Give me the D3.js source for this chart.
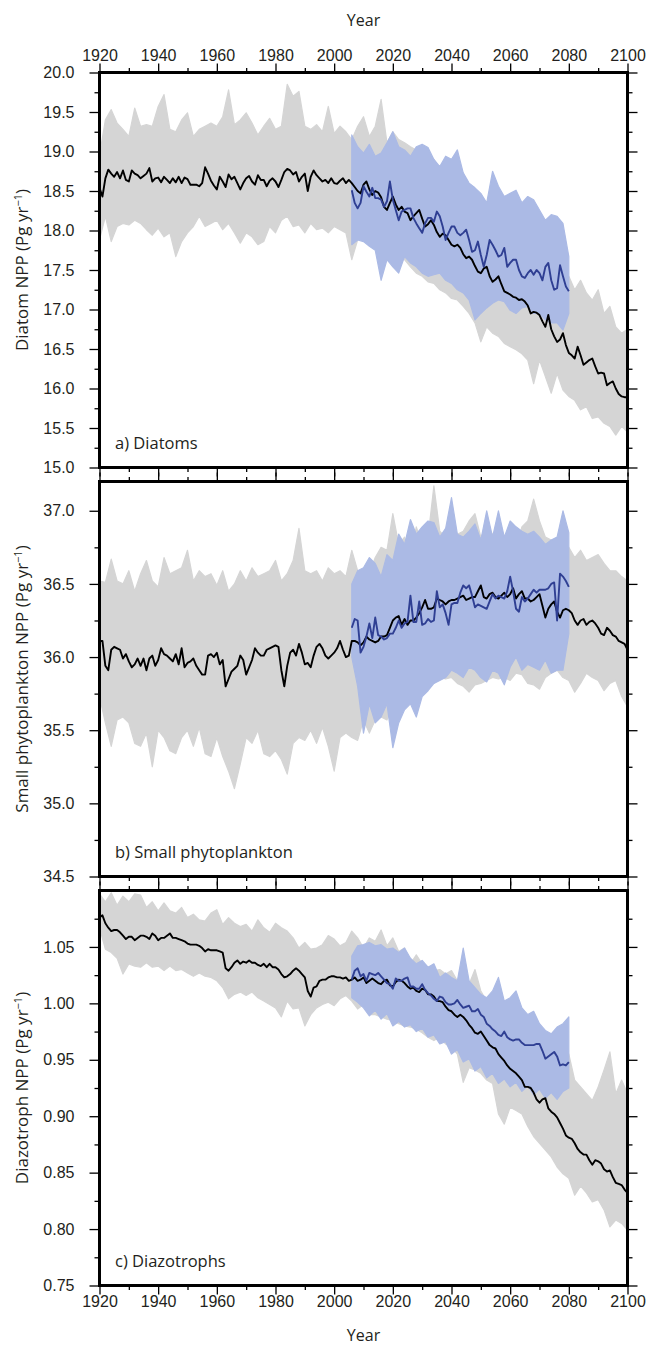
<!DOCTYPE html>
<html>
<head>
<meta charset="utf-8">
<script src="https://cdn.jsdelivr.net/npm/d3@7"></script>
<style>
  body { margin: 0; background: #fff; }
  svg { display: block; font-family: "Open Sans", sans-serif; }
</style>
</head>
<body>
<svg id="chart" width="647" height="1345"></svg>
<script>
// ---- tick labels ----
const yearTicks = [1920, 1940, 1960, 1980, 2000, 2020, 2040, 2060, 2080, 2100]
const diatomTicks = [15.0, 15.5, 16.0, 16.5, 17.0, 17.5, 18.0, 18.5, 19.0, 19.5, 20.0]
const smallTicks = [34.5, 35.0, 35.5, 36.0, 36.5, 37.0]
const diazTicks = [0.75, 0.80, 0.85, 0.90, 0.95, 1.00, 1.05]

// ---- years ----
const years = d3.range(1920, 2101)          // ensemble mean, yearly
const futureYears = d3.range(2006, 2081)    // blue run mean, yearly
const envYears = d3.range(1920, 2101, 2)    // grey ensemble spread, every 2 yr
const blueEnvYears = d3.range(2006, 2081, 2) // blue ensemble spread, every 2 yr

// ---- a) Diatoms ----
const diatomMean = [
  18.54, 18.43, 18.66, 18.77, 18.72, 18.68, 18.74, 18.66, 18.76, 18.64,
  18.62, 18.76, 18.72, 18.70, 18.66, 18.69, 18.72, 18.79, 18.62, 18.66,
  18.67, 18.61, 18.68, 18.64, 18.60, 18.66, 18.61, 18.68, 18.60, 18.67,
  18.65, 18.58, 18.58, 18.58, 18.56, 18.60, 18.80, 18.72, 18.63, 18.57,
  18.52, 18.68, 18.62, 18.55, 18.71, 18.65, 18.68, 18.60, 18.52, 18.60,
  18.66, 18.69, 18.62, 18.58, 18.70, 18.64, 18.64, 18.56, 18.63, 18.66,
  18.62, 18.55, 18.64, 18.74, 18.78, 18.76, 18.71, 18.74, 18.62, 18.68,
  18.72, 18.50, 18.68, 18.76, 18.70, 18.66, 18.62, 18.64, 18.60, 18.66,
  18.60, 18.59, 18.63, 18.66, 18.60, 18.64, 18.60, 18.55, 18.50, 18.47,
  18.58, 18.62, 18.52, 18.45, 18.50, 18.48, 18.42, 18.30, 18.26, 18.35,
  18.43, 18.33, 18.26, 18.30, 18.24, 18.22, 18.13, 18.18, 18.22, 18.26,
  18.15, 18.05, 18.08, 18.13, 18.07, 17.98, 17.92, 17.96, 17.94, 17.88,
  17.82, 17.80, 17.82, 17.78, 17.70, 17.65, 17.67, 17.63, 17.55, 17.48,
  17.46, 17.52, 17.54, 17.42, 17.35, 17.38, 17.42, 17.32, 17.23, 17.21,
  17.19, 17.16, 17.15, 17.12, 17.13, 17.10, 17.05, 16.95, 16.97, 16.96,
  16.93, 16.85, 16.78, 16.93, 16.75, 16.66, 16.59, 16.62, 16.70, 16.55,
  16.45, 16.42, 16.38, 16.53, 16.42, 16.30, 16.33, 16.36, 16.38, 16.28,
  16.19, 16.20, 16.19, 16.04, 16.07, 16.09, 16.00, 15.93, 15.90, 15.89,
  15.89
]
const diatomFuture = [
  18.51, 18.35, 18.28, 18.35, 18.56, 18.49, 18.43, 18.54, 18.41, 18.41,
  18.39, 18.30, 18.37, 18.62, 18.39, 18.26, 18.13, 18.24, 18.26, 18.28,
  18.28, 18.16, 18.09, 18.03, 17.97, 18.09, 18.16, 18.16, 18.11, 18.24,
  18.18, 18.05, 17.88, 17.97, 18.05, 18.05, 17.97, 17.94, 17.97, 18.01,
  17.88, 17.73, 17.75, 17.86, 17.69, 17.54, 17.69, 17.88, 17.82, 17.75,
  17.67, 17.69, 17.78, 17.54, 17.59, 17.63, 17.63, 17.50, 17.42, 17.40,
  17.46, 17.50, 17.44, 17.50, 17.46, 17.37, 17.54, 17.59, 17.37, 17.25,
  17.27, 17.56, 17.42, 17.29, 17.23
]
const diatomGrayHi = [
  18.95, 19.40, 19.53, 19.36, 19.28, 19.19, 19.55, 19.32, 19.34, 19.32,
  19.57, 19.72, 19.28, 19.25, 19.40, 19.49, 19.19, 19.28, 19.32, 19.36,
  19.32, 19.44, 19.78, 19.34, 19.40, 19.49, 19.36, 19.21, 19.32, 19.42,
  19.28, 19.32, 19.85, 19.70, 19.76, 19.32, 19.28, 19.34, 19.25, 19.57,
  19.23, 19.32, 19.25, 19.15, 19.32, 19.44, 19.19, 19.32, 19.66, 19.11,
  19.25, 19.15, 19.11, 19.06, 19.02, 18.94, 18.98, 18.90, 18.77, 18.85,
  18.73, 18.64, 18.56, 18.47, 18.39, 18.30, 18.26, 18.18, 18.13, 18.05,
  17.97, 17.88, 17.80, 17.71, 17.63, 17.54, 17.46, 17.42, 17.37, 17.29,
  17.42, 17.25, 17.37, 17.21, 17.12, 17.25, 16.95, 17.04, 16.78, 16.70,
  16.75
]
const diatomGrayLo = [
  17.88, 18.18, 17.86, 18.05, 18.09, 18.07, 18.13, 18.09, 18.01, 17.94,
  18.03, 17.92, 17.97, 17.67, 17.86, 17.97, 18.05, 18.18, 18.05, 18.09,
  18.13, 18.01, 18.09, 17.97, 17.84, 17.97, 17.92, 17.82, 17.86, 18.05,
  17.97, 18.13, 18.18, 18.05, 18.07, 17.97, 18.09, 18.01, 18.03, 17.97,
  18.05, 18.01, 17.97, 17.63, 17.88, 17.92, 17.86, 17.80, 17.78, 17.75,
  17.75, 17.69, 17.63, 17.54, 17.46, 17.42, 17.35, 17.33, 17.25, 17.21,
  17.14, 17.12, 17.04, 16.95, 16.83, 16.59, 16.78, 16.70, 16.66, 16.57,
  16.53, 16.49, 16.44, 16.36, 16.06, 16.36, 16.15, 15.94, 16.19, 15.98,
  15.90, 15.85, 15.73, 15.77, 15.62, 15.64, 15.56, 15.52, 15.41, 15.52,
  15.45
]
const diatomBlueHi = [
  19.21, 19.06, 18.98, 19.09, 18.94, 18.98, 19.11, 19.25, 19.06, 19.02,
  18.94, 19.06, 19.09, 19.05, 18.90, 18.81, 18.94, 18.90, 19.02, 18.73,
  18.60, 18.54, 18.47, 18.35, 18.75, 18.56, 18.43, 18.47, 18.51, 18.35,
  18.43, 18.39, 18.26, 18.13, 18.20, 18.18, 18.09, 17.67
]
const diatomBlueLo = [
  17.82, 17.88, 17.86, 17.80, 17.75, 17.37, 17.63, 17.54, 17.46, 17.67,
  17.59, 17.54, 17.46, 17.42, 17.44, 17.46, 17.37, 17.33, 17.25, 17.21,
  17.12, 16.87, 16.95, 17.02, 17.08, 17.12, 17.10, 16.99, 16.95, 17.02,
  17.04, 16.95, 16.95, 16.87, 16.83, 16.83, 16.74, 16.95
]

// ---- b) Small phytoplankton ----
const smallMean = [
  36.11, 36.11, 35.94, 35.91, 36.05, 36.07, 36.06, 36.05, 35.99, 36.02,
  35.97, 35.93, 35.95, 35.99, 35.94, 35.99, 35.91, 35.99, 36.01, 35.94,
  35.98, 36.06, 36.02, 36.01, 35.99, 35.97, 36.02, 35.95, 36.06, 35.93,
  35.96, 35.97, 35.99, 35.94, 35.91, 35.88, 35.88, 36.01, 36.02, 36.00,
  36.03, 35.95, 35.98, 35.80, 35.85, 35.90, 35.92, 35.94, 36.01, 35.98,
  35.88, 35.93, 35.98, 36.06, 36.03, 36.01, 36.01, 36.05, 36.06, 36.07,
  36.08, 36.07, 35.91, 35.80, 35.94, 36.03, 36.05, 36.01, 36.09, 36.03,
  35.95, 35.96, 35.93, 36.01, 36.07, 36.09, 36.06, 36.01, 35.99, 36.01,
  36.03, 36.06, 36.11, 36.05, 36.00, 36.01, 36.11, 36.11, 36.10, 36.08,
  36.10, 36.14, 36.12, 36.11, 36.10, 36.11, 36.14, 36.14, 36.15, 36.20,
  36.25, 36.27, 36.28, 36.22, 36.26, 36.22, 36.25, 36.25, 36.27, 36.30,
  36.34, 36.39, 36.33, 36.33, 36.34, 36.40, 36.39, 36.38, 36.36, 36.38,
  36.39, 36.39, 36.40, 36.41, 36.42, 36.39, 36.40, 36.41, 36.41, 36.45,
  36.49, 36.41, 36.40, 36.43, 36.44, 36.41, 36.40, 36.42, 36.44, 36.41,
  36.43, 36.47, 36.40, 36.43, 36.45, 36.40, 36.40, 36.38, 36.39, 36.41,
  36.43, 36.35, 36.27, 36.33, 36.36, 36.38, 36.31, 36.27, 36.32, 36.33,
  36.32, 36.30, 36.25, 36.22, 36.25, 36.26, 36.22, 36.24, 36.25, 36.23,
  36.20, 36.16, 36.15, 36.20, 36.18, 36.15, 36.14, 36.11, 36.10, 36.09,
  36.05
]
const smallFuture = [
  36.20, 36.26, 36.25, 36.03, 36.07, 36.14, 36.23, 36.13, 36.27, 36.15,
  36.14, 36.12, 36.13, 36.16, 36.16, 36.20, 36.25, 36.20, 36.23, 36.24,
  36.42, 36.24, 36.24, 36.38, 36.22, 36.23, 36.26, 36.24, 36.25, 36.45,
  36.34, 36.36, 36.30, 36.22, 36.36, 36.37, 36.37, 36.44, 36.49, 36.47,
  36.49, 36.42, 36.34, 36.36, 36.35, 36.34, 36.33, 36.38, 36.43, 36.40,
  36.42, 36.41, 36.40, 36.45, 36.55, 36.45, 36.33, 36.31, 36.41, 36.38,
  36.40, 36.43, 36.46, 36.44, 36.46, 36.46, 36.46, 36.47, 36.50, 36.51,
  36.25, 36.57, 36.55, 36.52, 36.48
]
const smallGrayHi = [
  36.52, 36.51, 36.67, 36.52, 36.50, 36.59, 36.45, 36.57, 36.66, 36.52,
  36.48, 36.68, 36.57, 36.59, 36.61, 36.73, 36.52, 36.59, 36.55, 36.57,
  36.49, 36.59, 36.45, 36.50, 36.59, 36.52, 36.61, 36.55, 36.57, 36.59,
  36.66, 36.52, 36.57, 36.66, 36.88, 36.59, 36.57, 36.59, 36.52, 36.61,
  36.57, 36.59, 36.55, 36.73, 36.59, 36.59, 36.57, 36.68, 36.75, 36.73,
  36.98, 36.77, 36.82, 36.68, 36.89, 36.77, 36.82, 37.17, 36.86, 36.82,
  36.91, 36.84, 36.86, 36.93, 36.98, 36.82, 36.89, 36.84, 36.82, 36.78,
  36.84, 36.75, 36.89, 36.93, 37.08, 36.93, 36.82, 36.80, 36.75, 36.73,
  36.75, 36.68, 36.73, 36.66, 36.68, 36.70, 36.64, 36.59, 36.59, 36.55,
  36.52
]
const smallGrayLo = [
  35.73, 35.55, 35.39, 35.57, 35.59, 35.55, 35.41, 35.39, 35.48, 35.25,
  35.50, 35.45, 35.36, 35.34, 35.45, 35.50, 35.39, 35.52, 35.34, 35.32,
  35.45, 35.32, 35.22, 35.10, 35.27, 35.45, 35.41, 35.50, 35.34, 35.32,
  35.36, 35.30, 35.20, 35.41, 35.45, 35.43, 35.50, 35.41, 35.52, 35.39,
  35.22, 35.45, 35.48, 35.45, 35.43, 35.57, 35.48, 35.57, 35.59, 35.57,
  35.68, 35.70, 35.73, 35.68, 35.73, 35.80, 35.84, 35.82, 35.86, 35.85,
  35.86, 35.82, 35.80, 35.76, 35.81, 35.82, 35.84, 35.86, 35.85, 35.86,
  35.84, 35.89, 35.88, 35.82, 35.81, 35.78, 35.86, 35.89, 35.91, 35.86,
  35.84, 35.76, 35.82, 35.89, 35.86, 35.84, 35.77, 35.82, 35.84, 35.73,
  35.66
]
const smallBlueHi = [
  36.50, 36.59, 36.61, 36.68, 36.64, 36.55, 36.70, 36.66, 36.84, 36.77,
  36.94, 36.84, 36.89, 36.93, 36.92, 36.82, 36.88, 37.09, 36.84, 36.82,
  36.86, 36.91, 36.80, 37.00, 36.82, 37.00, 36.82, 36.93, 36.89, 36.86,
  36.84, 36.86, 36.82, 36.77, 36.80, 36.82, 37.00, 36.85
]
const smallBlueLo = [
  36.00, 35.80, 35.48, 35.68, 35.55, 35.59, 35.68, 35.38, 35.55, 35.64,
  35.68, 35.59, 35.73, 35.77, 35.82, 35.84, 35.86, 35.91, 35.89, 35.86,
  35.93, 35.91, 35.86, 35.83, 35.91, 35.89, 35.81, 35.93, 36.00, 35.91,
  35.95, 35.93, 35.91, 35.98, 35.89, 35.91, 35.91, 36.16
]

// ---- c) Diazotrophs ----
const diazMean = [
  1.076, 1.078, 1.071, 1.067, 1.064, 1.065, 1.065, 1.063, 1.060, 1.057,
  1.059, 1.059, 1.056, 1.058, 1.060, 1.060, 1.059, 1.057, 1.062, 1.060,
  1.056, 1.058, 1.058, 1.060, 1.062, 1.058, 1.058, 1.057, 1.056, 1.055,
  1.053, 1.052, 1.052, 1.052, 1.051, 1.049, 1.046, 1.048, 1.047, 1.047,
  1.047, 1.046, 1.045, 1.031, 1.029, 1.032, 1.036, 1.038, 1.035, 1.037,
  1.036, 1.038, 1.036, 1.036, 1.034, 1.033, 1.035, 1.032, 1.035, 1.032,
  1.032, 1.030, 1.026, 1.023, 1.024, 1.026, 1.029, 1.031, 1.029, 1.026,
  1.023, 1.011, 1.006, 1.014, 1.015, 1.020, 1.021, 1.021, 1.023, 1.024,
  1.024, 1.023, 1.023, 1.022, 1.023, 1.020, 1.021, 1.023, 1.020, 1.021,
  1.023, 1.018, 1.020, 1.022, 1.020, 1.018, 1.017, 1.020, 1.021, 1.016,
  1.015, 1.019, 1.021, 1.020, 1.018, 1.015, 1.013, 1.014, 1.011, 1.010,
  1.013, 1.012, 1.008, 1.008, 1.006, 1.002, 1.002, 1.001, 0.997, 0.994,
  0.993, 0.990, 0.988, 0.990, 0.988, 0.985, 0.981, 0.978, 0.974, 0.973,
  0.975, 0.971, 0.967, 0.963, 0.961, 0.960, 0.955, 0.952, 0.949, 0.945,
  0.942, 0.940, 0.938, 0.935, 0.932, 0.926, 0.926, 0.925, 0.921, 0.915,
  0.912, 0.915, 0.916, 0.907, 0.904, 0.902, 0.899, 0.894, 0.889, 0.883,
  0.881, 0.880, 0.876, 0.871, 0.868, 0.866, 0.866, 0.861, 0.857, 0.861,
  0.860, 0.858, 0.853, 0.851, 0.852, 0.846, 0.841, 0.840, 0.839, 0.835,
  0.832
]
const diazFuture = [
  1.021, 1.029, 1.031, 1.024, 1.026, 1.020, 1.027, 1.026, 1.025, 1.027,
  1.024, 1.021, 1.018, 1.017, 1.013, 1.022, 1.020, 1.020, 1.022, 1.023,
  1.015, 1.015, 1.013, 1.013, 1.017, 1.012, 1.009, 1.007, 1.004, 1.002,
  1.006, 1.005, 1.001, 0.999, 0.999, 1.000, 1.003, 0.999, 0.996, 0.997,
  0.998, 0.993, 0.993, 0.995, 0.990, 0.988, 0.982, 0.980, 0.977, 0.975,
  0.972, 0.971, 0.975, 0.970, 0.968, 0.967, 0.968, 0.968, 0.965, 0.963,
  0.963, 0.963, 0.963, 0.964, 0.964, 0.958, 0.951, 0.953, 0.955, 0.957,
  0.953, 0.945, 0.946, 0.945, 0.948
]
const diazGrayHi = [
  1.097, 1.090, 1.098, 1.087, 1.095, 1.090, 1.097, 1.096, 1.085, 1.090,
  1.082, 1.089, 1.082, 1.080, 1.085, 1.076, 1.079, 1.074, 1.073, 1.080,
  1.083, 1.070, 1.076, 1.071, 1.068, 1.070, 1.064, 1.074, 1.067, 1.063,
  1.071, 1.067, 1.064, 1.058, 1.049, 1.054, 1.048, 1.049, 1.052, 1.060,
  1.057, 1.051, 1.054, 1.064, 1.058, 1.049, 1.058, 1.055, 1.065, 1.051,
  1.058, 1.046, 1.049, 1.035, 1.043, 1.035, 1.032, 1.029, 1.030, 1.026,
  1.029, 1.020, 1.023, 1.017, 1.030, 1.011, 1.002, 1.008, 0.996, 0.985,
  0.990, 0.985, 0.979, 0.985, 0.989, 0.979, 0.973, 0.973, 0.970, 0.967,
  0.955, 0.932, 0.926, 0.920, 0.914, 0.926, 0.941, 0.957, 0.920, 0.932,
  0.920
]
const diazGrayLo = [
  1.067, 1.048, 1.045, 1.040, 1.026, 1.035, 1.033, 1.032, 1.036, 1.032,
  1.033, 1.029, 1.033, 1.029, 1.030, 1.027, 1.024, 1.027, 1.024, 1.023,
  1.020, 1.014, 1.004, 1.008, 1.010, 1.007, 1.010, 1.005, 1.002, 0.999,
  0.996, 0.988, 1.002, 0.995, 0.996, 0.980, 0.990, 0.996, 0.999, 1.001,
  0.998, 1.004, 1.007, 1.002, 0.995, 0.999, 0.990, 0.990, 0.988, 0.986,
  0.985, 0.982, 0.980, 0.979, 0.977, 0.974, 0.970, 0.967, 0.970, 0.964,
  0.961, 0.955, 0.930, 0.943, 0.941, 0.938, 0.932, 0.929, 0.902, 0.893,
  0.908, 0.905, 0.902, 0.891, 0.882, 0.876, 0.870, 0.864, 0.855, 0.849,
  0.845, 0.830, 0.838, 0.832, 0.824, 0.826, 0.817, 0.802, 0.808, 0.805,
  0.799
]
const diazBlueHi = [
  1.042, 1.051, 1.052, 1.054, 1.051, 1.052, 1.048, 1.049, 1.045, 1.049,
  1.040, 1.035, 1.038, 1.032, 1.035, 1.023, 1.027, 1.023, 1.020, 1.049,
  1.020, 1.014, 1.008, 1.005, 1.011, 1.023, 1.002, 1.005, 1.011, 0.996,
  0.990, 0.993, 0.982, 0.976, 0.973, 0.979, 0.982, 0.988
]
const diazBlueLo = [
  1.005, 1.001, 0.996, 0.989, 0.994, 0.986, 0.991, 0.980, 0.984, 0.979,
  0.981, 0.975, 0.978, 0.970, 0.972, 0.964, 0.966, 0.955, 0.959, 0.948,
  0.951, 0.940, 0.944, 0.934, 0.938, 0.929, 0.933, 0.926, 0.930, 0.922,
  0.927, 0.919, 0.924, 0.916, 0.921, 0.915, 0.922, 0.925
]

const panels = [
  { top: 72.5, domain: [15, 20], ticks: diatomTicks, minorStep: 0.25, fmt: d3.format('.1f'),
    label: 'a) Diatoms', title: 'Diatom NPP (Pg yr',
    mean: diatomMean, future: diatomFuture, grayHi: diatomGrayHi, grayLo: diatomGrayLo,
    blueHi: diatomBlueHi, blueLo: diatomBlueLo },
  { top: 481.5, domain: [34.5, 37.2], ticks: smallTicks, minorStep: 0.25, fmt: d3.format('.1f'),
    label: 'b) Small phytoplankton', title: 'Small phytoplankton NPP (Pg yr',
    mean: smallMean, future: smallFuture, grayHi: smallGrayHi, grayLo: smallGrayLo,
    blueHi: smallBlueHi, blueLo: smallBlueLo },
  { top: 890.5, domain: [0.75, 1.10], ticks: diazTicks, minorStep: 0.025, fmt: d3.format('.2f'),
    label: 'c) Diazotrophs', title: 'Diazotroph NPP (Pg yr',
    mean: diazMean, future: diazFuture, grayHi: diazGrayHi, grayLo: diazGrayLo,
    blueHi: diazBlueHi, blueLo: diazBlueLo }
]

const panelH = 395
const textColor = '#231f20'
const grayColor = '#d5d5d5'
const blueColor = '#abbae5'
const svg = d3.select('#chart')
const x = d3.scaleLinear().domain([1920, 2100]).range([99.5, 627.5])
const minorYears = yearTicks.map(t => t + 10).filter(t => t < 2100)

const styleAxis = (g) => {
  g.select('.domain').remove()
  g.selectAll('line').attr('stroke', '#000').attr('stroke-width', 1.3)
  g.selectAll('text').attr('fill', textColor).attr('font-size', 16)
}

panels.forEach((p, i) => {
  const y = d3.scaleLinear().domain(p.domain).range([p.top + panelH, p.top])
  const bottom = p.top + panelH

  svg.append('clipPath').attr('id', 'clip' + i)
    .append('rect')
    .attr('x', x(1920)).attr('y', p.top)
    .attr('width', x(2100) - x(1920)).attr('height', panelH)

  const plot = svg.append('g').attr('clip-path', `url(#clip${i})`)

  const grayRows = envYears.map((yr, j) => ({ year: yr, hi: p.grayHi[j], lo: p.grayLo[j] }))
  const blueRows = blueEnvYears.map((yr, j) => ({ year: yr, hi: p.blueHi[j], lo: p.blueLo[j] }))

  const band = d3.area()
    .x(d => x(d.year))
    .y0(d => y(d.lo))
    .y1(d => y(d.hi))

  plot.append('path')
    .datum(grayRows)
    .attr('d', band)
    .attr('fill', grayColor)
    .attr('stroke', grayColor)
    .attr('stroke-width', 1.2)
    .attr('stroke-linejoin', 'round')

  plot.append('path')
    .datum(blueRows)
    .attr('d', band)
    .attr('fill', blueColor)
    .attr('stroke', blueColor)
    .attr('stroke-width', 1.2)
    .attr('stroke-linejoin', 'round')

  const line = d3.line()
    .x(d => x(d[0]))
    .y(d => y(d[1]))

  plot.append('path')
    .datum(years.map((yr, j) => [yr, p.mean[j]]))
    .attr('d', line)
    .attr('fill', 'none')
    .attr('stroke', '#000')
    .attr('stroke-width', 1.9)
    .attr('stroke-linejoin', 'round')

  plot.append('path')
    .datum(futureYears.map((yr, j) => [yr, p.future[j]]))
    .attr('d', line)
    .attr('fill', 'none')
    .attr('stroke', '#2f3f93')
    .attr('stroke-width', 1.9)
    .attr('stroke-linejoin', 'round')

  // y axes, left with labels, right ticks only
  const minorY = p.ticks.map(t => t + p.minorStep).filter(t => t < p.domain[1])
  svg.append('g').attr('transform', `translate(${x(1920)},0)`)
    .call(d3.axisLeft(y).tickValues(p.ticks).tickSize(10).tickPadding(15).tickFormat(p.fmt))
    .call(styleAxis)
  svg.append('g').attr('transform', `translate(${x(1920)},0)`)
    .call(d3.axisLeft(y).tickValues(minorY).tickSize(5).tickFormat(''))
    .call(styleAxis)
  svg.append('g').attr('transform', `translate(${x(2100)},0)`)
    .call(d3.axisRight(y).tickValues(p.ticks).tickSize(10).tickFormat(''))
    .call(styleAxis)
  svg.append('g').attr('transform', `translate(${x(2100)},0)`)
    .call(d3.axisRight(y).tickValues(minorY).tickSize(5).tickFormat(''))
    .call(styleAxis)

  // x axes on top and bottom of every panel
  svg.append('g').attr('transform', `translate(0,${p.top})`)
    .call(d3.axisTop(x).tickValues(yearTicks).tickSize(9).tickPadding(3)
      .tickFormat(i === 0 ? d3.format('d') : ''))
    .call(styleAxis)
  svg.append('g').attr('transform', `translate(0,${p.top})`)
    .call(d3.axisTop(x).tickValues(minorYears).tickSize(4.5).tickFormat(''))
    .call(styleAxis)
  svg.append('g').attr('transform', `translate(0,${bottom})`)
    .call(d3.axisBottom(x).tickValues(yearTicks).tickSize(9).tickPadding(1)
      .tickFormat(i === panels.length - 1 ? d3.format('d') : ''))
    .call(styleAxis)
  svg.append('g').attr('transform', `translate(0,${bottom})`)
    .call(d3.axisBottom(x).tickValues(minorYears).tickSize(4.5).tickFormat(''))
    .call(styleAxis)

  // frame
  svg.append('rect')
    .attr('x', x(1920)).attr('y', p.top)
    .attr('width', x(2100) - x(1920)).attr('height', panelH)
    .attr('fill', 'none')
    .attr('stroke', '#000')
    .attr('stroke-width', 3)

  svg.append('text')
    .attr('x', 115)
    .attr('y', bottom - 19)
    .attr('fill', textColor)
    .attr('font-size', 16.5)
    .text(p.label)

  const title = svg.append('text')
    .attr('transform', `translate(28,${p.top + panelH / 2}) rotate(-90)`)
    .attr('text-anchor', 'middle')
    .attr('fill', textColor)
    .attr('font-size', 17)
  title.append('tspan').text(p.title)
  title.append('tspan').attr('dy', -6).attr('font-size', 11).text('\u22121')
  title.append('tspan').attr('dy', 6).text(')')
})

svg.append('text')
  .attr('x', (x(1920) + x(2100)) / 2)
  .attr('y', 26)
  .attr('text-anchor', 'middle')
  .attr('fill', textColor)
  .attr('font-size', 16)
  .text('Year')

svg.append('text')
  .attr('x', (x(1920) + x(2100)) / 2)
  .attr('y', 1341)
  .attr('text-anchor', 'middle')
  .attr('fill', textColor)
  .attr('font-size', 16)
  .text('Year')
</script>
</body>
</html>
